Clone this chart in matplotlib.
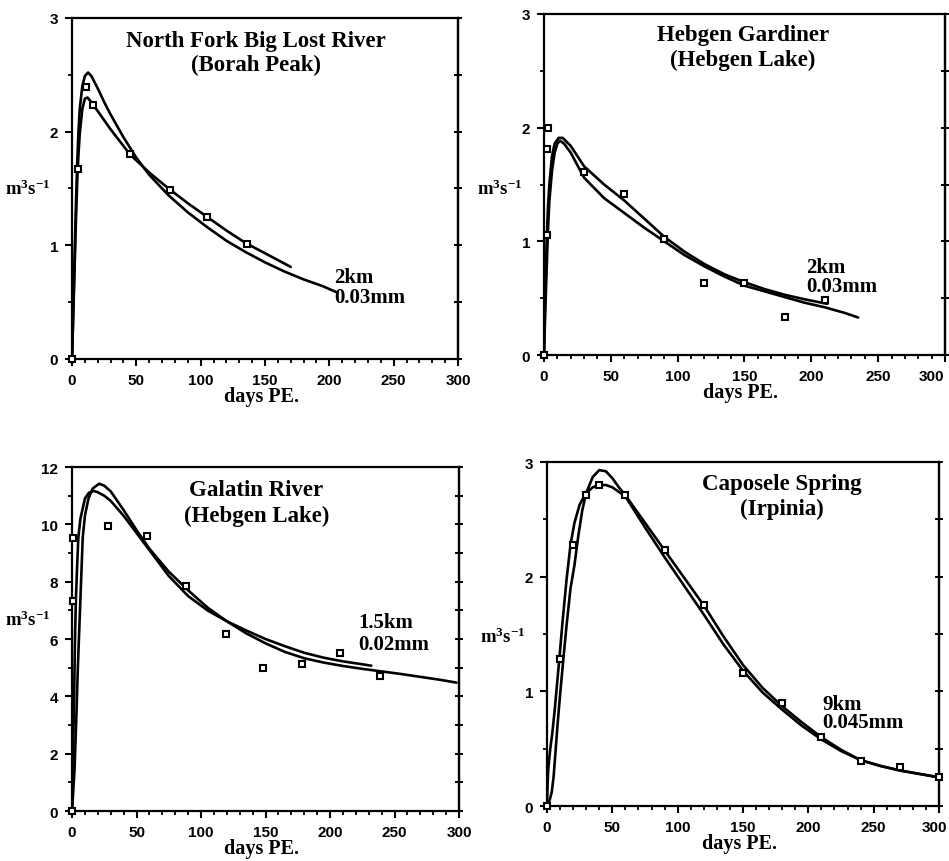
import matplotlib
matplotlib.use("Agg")
import matplotlib.pyplot as plt
import matplotlib.transforms as mtransforms
from matplotlib.ticker import MultipleLocator

plt.rcParams["mathtext.default"] = "regular"

SERIF = "Liberation Serif"
SANS = "Liberation Sans"

# ---------------- North Fork Big Lost River (Borah Peak) ----------------
nf_obs_days = [0, 5, 11, 16, 45, 76, 105, 136]
nf_obs_q = [0, 1.67, 2.39, 2.23, 1.80, 1.49, 1.25, 1.01]
nf_a_days = [0, 1, 2, 3, 4, 5, 6, 8, 10, 12.5, 15, 20, 25, 30, 40, 50, 60, 75,
             90, 105, 120, 135, 150, 165, 180, 195, 205]
nf_a_q = [0, 0.45, 0.9, 1.35, 1.72, 2.0, 2.2, 2.4, 2.49, 2.52, 2.49, 2.38, 2.26,
          2.15, 1.95, 1.77, 1.62, 1.44, 1.29, 1.16, 1.04, 0.94, 0.85, 0.77, 0.70,
          0.64, 0.59]
nf_b_days = [0, 1, 2, 3, 4, 5, 6, 8, 10, 12, 15, 20, 30, 45, 60, 75, 90, 105,
             120, 135, 150, 160, 170]
nf_b_q = [0, 0.4, 0.8, 1.2, 1.55, 1.8, 1.98, 2.2, 2.29, 2.30, 2.26, 2.18, 2.02,
          1.80, 1.64, 1.50, 1.37, 1.25, 1.13, 1.02, 0.93, 0.87, 0.81]

# ---------------- Hebgen Gardiner (Hebgen Lake) ----------------
hg_obs_days = [0, 2, 2, 3, 30, 60, 90, 120, 150, 180, 210]
hg_obs_q = [0, 1.06, 1.81, 2.0, 1.61, 1.42, 1.02, 0.63, 0.63, 0.33, 0.48]
hg_a_days = [0, 1, 2, 3, 4, 6, 8, 11, 14, 20, 30, 45, 60, 75, 90, 105, 120, 135,
             150, 165, 180, 195, 212]
hg_a_q = [0, 0.55, 1.0, 1.3, 1.5, 1.75, 1.86, 1.91, 1.91, 1.84, 1.66, 1.5, 1.36,
          1.2, 1.04, 0.91, 0.8, 0.71, 0.64, 0.58, 0.53, 0.49, 0.45]
hg_b_days = [0, 1, 2, 3, 4, 6, 8, 10, 12, 15, 20, 30, 45, 60, 75, 90, 105, 120,
             135, 150, 165, 180, 195, 210, 225, 235]
hg_b_q = [0, 0.4, 0.75, 1.1, 1.35, 1.62, 1.78, 1.86, 1.885, 1.86, 1.78, 1.56,
          1.38, 1.25, 1.12, 1.0, 0.88, 0.78, 0.69, 0.61, 0.56, 0.51, 0.46, 0.42,
          0.37, 0.33]

# ---------------- Galatin River (Hebgen Lake) ----------------
gr_obs_days = [0, 0.5, 1, 28, 58, 88, 119, 148, 178, 208, 239]
gr_obs_q = [0, 7.33, 9.54, 9.95, 9.6, 7.86, 6.17, 4.98, 5.13, 5.53, 4.70]
gr_a_days = [0, 2, 3.5, 4.5, 5.5, 6.5, 8.3, 10, 12.7, 16, 21, 25, 30, 40, 50, 60,
             75, 90, 105, 120, 135, 150, 165, 180, 195, 210, 225, 240, 255, 270,
             285, 298]
gr_a_q = [0, 1.5, 3.5, 5.0, 6.2, 7.4, 9.55, 10.3, 10.9, 11.25, 11.42, 11.35,
          11.15, 10.5, 9.8, 9.15, 8.35, 7.7, 7.1, 6.62, 6.2, 5.85, 5.55, 5.33,
          5.18, 5.06, 4.96, 4.87, 4.78, 4.68, 4.58, 4.48]
gr_b_days = [0, 0.8, 1.6, 2.3, 3, 4, 4.9, 6.5, 10, 13, 16.5, 20, 25, 30, 40, 50,
             60, 75, 90, 105, 120, 135, 150, 165, 180, 195, 210, 222, 232]
gr_b_q = [0, 2, 4, 6, 7.4, 8.6, 9.55, 10.2, 10.9, 11.1, 11.17, 11.12, 11.0,
          10.82, 10.3, 9.7, 9.1, 8.2, 7.5, 7.0, 6.62, 6.3, 6.0, 5.75, 5.52, 5.35,
          5.22, 5.14, 5.07]

# ---------------- Caposele Spring (Irpinia) ----------------
cs_obs_days = [0, 10, 20, 30, 40, 60, 90, 120, 150, 180, 210, 240, 270, 300]
cs_obs_q = [0, 1.28, 2.28, 2.71, 2.80, 2.71, 2.23, 1.75, 1.16, 0.90, 0.60, 0.39,
            0.34, 0.25]
cs_a_days = [0, 2, 3.6, 5, 6.1, 8, 10, 12.5, 15, 18, 21, 24, 27, 30, 35, 40, 45,
             50, 55, 60, 75, 90, 105, 120, 135, 150, 165, 180, 195, 210, 225, 240,
             255, 270, 285, 300]
cs_a_q = [0, 0.05, 0.12, 0.25, 0.41, 0.7, 0.97, 1.28, 1.58, 1.9, 2.1, 2.36, 2.58,
          2.73, 2.87, 2.93, 2.92, 2.86, 2.78, 2.71, 2.47, 2.23, 1.99, 1.75, 1.48,
          1.23, 1.03, 0.87, 0.73, 0.6, 0.49, 0.4, 0.35, 0.31, 0.28, 0.25]
cs_b_days = [0, 0.5, 1, 2.5, 4, 6, 9.4, 12, 15, 18, 21, 25, 30, 35, 40, 45, 50,
             60, 75, 90, 105, 120, 135, 150, 165, 180, 195, 210, 225, 240, 255,
             270, 285, 300]
cs_b_q = [0, 0.2, 0.33, 0.5, 0.63, 0.85, 1.28, 1.62, 1.98, 2.28, 2.47, 2.63, 2.73,
          2.78, 2.8, 2.8, 2.78, 2.7, 2.43, 2.17, 1.92, 1.67, 1.41, 1.18, 0.99,
          0.84, 0.7, 0.58, 0.48, 0.4, 0.35, 0.31, 0.28, 0.25]

x_ticks = [0, 50, 100, 150, 200, 250, 300]

panels = [
    dict(rect=[0.0759, 0.5824, 0.4067, 0.3956], ymax=3, ymajor=1, yminor=0.5,
         title=("North Fork Big Lost River", "(Borah Peak)"), title_x=143,
         title_y=(2.80, 2.59), note=("2km", "0.03mm"), note_x=204,
         note_y=(0.72, 0.545), ylab_y=1.5, last_shift=0,
         obs=(nf_obs_days, nf_obs_q), a=(nf_a_days, nf_a_q), b=(nf_b_days, nf_b_q)),
    dict(rect=[0.5732, 0.5870, 0.4226, 0.3956], ymax=3, ymajor=1, yminor=0.5,
         title=("Hebgen Gardiner", "(Hebgen Lake)"), title_x=149,
         title_y=(2.82, 2.60), note=("2km", "0.03mm"), note_x=196,
         note_y=(0.77, 0.61), ylab_y=1.47, last_shift=-1,
         obs=(hg_obs_days, hg_obs_q), a=(hg_a_days, hg_a_q), b=(hg_b_days, hg_b_q)),
    dict(rect=[0.0759, 0.0580, 0.4078, 0.3990], ymax=12, ymajor=2, yminor=1,
         title=("Galatin River", "(Hebgen Lake)"), title_x=143,
         title_y=(11.2, 10.3), note=("1.5km", "0.02mm"), note_x=222,
         note_y=(6.58, 5.83), ylab_y=6.7, last_shift=0,
         obs=(gr_obs_days, gr_obs_q), a=(gr_a_days, gr_a_q), b=(gr_b_days, gr_b_q)),
    dict(rect=[0.5764, 0.0638, 0.4131, 0.3990], ymax=3, ymajor=1, yminor=0.5,
         title=("Caposele Spring", "(Irpinia)"), title_x=180,
         title_y=(2.81, 2.60), note=("9km", "0.045mm"), note_x=211,
         note_y=(0.89, 0.73), ylab_y=1.48, last_shift=-5,
         obs=(cs_obs_days, cs_obs_q), a=(cs_a_days, cs_a_q), b=(cs_b_days, cs_b_q)),
]

fig = plt.figure(figsize=(9.49, 8.62), dpi=100)

for p in panels:
    ax = fig.add_axes(p["rect"])
    ax.set_xlim(0, 300)
    ax.set_ylim(0, p["ymax"])

    for days, q in (p["a"], p["b"]):
        ax.plot(days, q, color="black", lw=1.9, solid_capstyle="round", zorder=3)
    ax.plot(*p["obs"], linestyle="none", marker="s", ms=5, mfc="white",
            mec="black", mew=1.5, zorder=4, clip_on=False)

    for s in ax.spines.values():
        s.set_linewidth(1.6)

    ax.set_xticks(x_ticks)
    ax.xaxis.set_minor_locator(MultipleLocator(10))
    ax.yaxis.set_major_locator(MultipleLocator(p["ymajor"]))
    ax.yaxis.set_minor_locator(MultipleLocator(p["yminor"]))
    ax.tick_params(axis="both", which="major", direction="out", length=5,
                   width=1.5, pad=5)
    ax.tick_params(axis="both", which="minor", direction="out", length=3,
                   width=1.3)
    for lab in ax.get_xticklabels() + ax.get_yticklabels():
        lab.set_fontfamily(SANS)
        lab.set_fontweight("bold")
        lab.set_fontsize(11)

    # keep the "300" label inside the frame edge
    if p["last_shift"]:
        last = ax.get_xticklabels()[-1]
        last.set_transform(last.get_transform() +
                           mtransforms.Affine2D().translate(p["last_shift"], 0))
        if p["last_shift"] < 0 and p["last_shift"] > -3:
            last.set_horizontalalignment("right")

    # tick marks along the right-hand frame
    sec = ax.secondary_yaxis("right")
    sec.yaxis.set_major_locator(MultipleLocator(p["yminor"]))
    sec.tick_params(direction="inout", length=6, width=1.4, labelright=False)
    sec.spines["right"].set_linewidth(1.6)

    for k in range(2):
        ax.text(p["title_x"], p["title_y"][k], p["title"][k], ha="center",
                va="center", family=SERIF, fontweight="bold", fontsize=16.5)
        ax.text(p["note_x"], p["note_y"][k], p["note"][k], ha="left",
                va="center", family=SERIF, fontweight="bold", fontsize=15)

    ax.annotate("days PE.", xy=(0.49, 0), xycoords="axes fraction",
                xytext=(0, -37), textcoords="offset pixels", ha="center",
                va="center", family=SERIF, fontweight="bold", fontsize=14.5)
    ax.annotate(r"m$^{3}$s$^{-1}$", xy=(0, p["ylab_y"]),
                xycoords=("axes fraction", "data"), xytext=(-44, 0),
                textcoords="offset pixels", ha="center", va="center",
                family=SERIF, fontweight="bold", fontsize=13.5)

fig.savefig("out.png", dpi=100)
